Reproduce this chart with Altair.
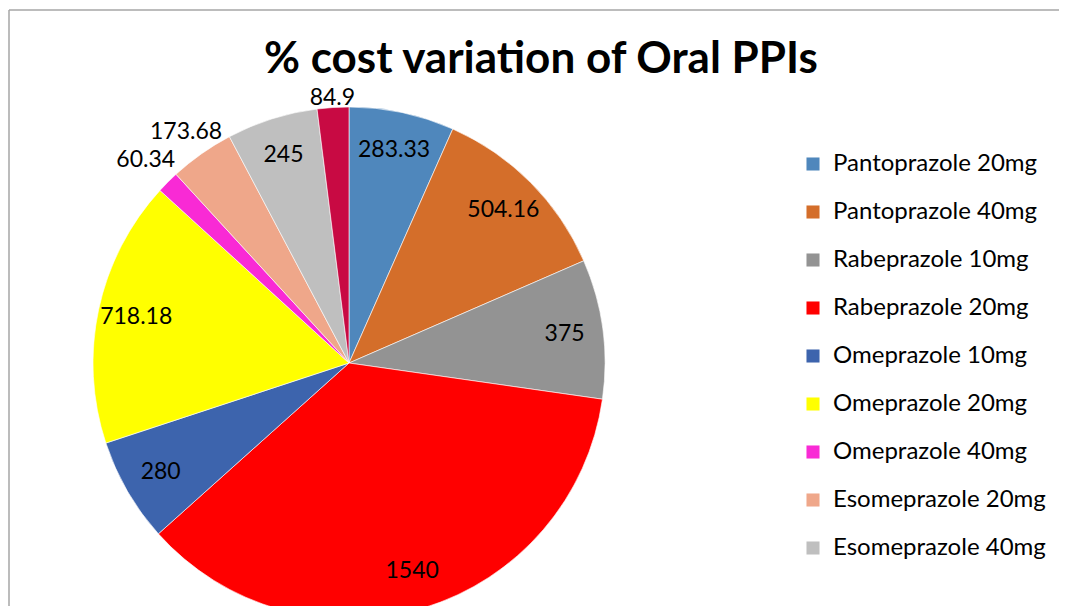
import altair as alt
import pandas as pd

drugs = ["Pantoprazole 20mg", "Pantoprazole 40mg", "Rabeprazole 10mg", "Rabeprazole 20mg",
         "Omeprazole 10mg", "Omeprazole 20mg", "Omeprazole 40mg", "Esomeprazole 20mg",
         "Esomeprazole 40mg", "Lansoprazole 30mg"]
values = [283.33, 504.16, 375, 1540, 280, 718.18, 60.34, 173.68, 245, 84.9]
labels = ["283.33", "504.16", "375", "1540", "280", "718.18", "60.34", "173.68", "245", "84.9"]
colors = ["#4F87BC", "#D46E2A", "#939393", "#FF0000", "#3D64AD", "#FFFF00", "#F92AD5",
          "#EFA78A", "#BFBFBF", "#C80A43"]
legend_items = drugs[:9]

FONT = "Lato"
CX, CY, R = 341, 355, 256

df = pd.DataFrame({"drug": drugs, "value": values, "label": labels, "order": list(range(len(drugs)))})

pie = alt.Chart(df).mark_arc(outerRadius=R, stroke="white", strokeWidth=0.6).encode(
    theta=alt.Theta("value:Q", stack=True),
    order=alt.Order("order:Q"),
    x=alt.value(CX), y=alt.value(CY),
    color=alt.Color("drug:N", sort=drugs,
                    scale=alt.Scale(domain=drugs, range=colors),
                    legend=alt.Legend(values=legend_items, title=None, orient="none",
                                      legendX=793, legendY=144,
                                      symbolType="square", symbolSize=170,
                                      symbolStrokeWidth=0, labelFont=FONT,
                                      labelFontSize=24, labelColor="#000000",
                                      labelOffset=8, rowPadding=24,
                                      labelLimit=400)),
)

text = alt.Chart(df).transform_joinaggregate(
    total="sum(value)"
).transform_window(
    cum="sum(value)", sort=[alt.SortField("order")], frame=[None, 0]
).transform_calculate(
    mid="2 * PI * (datum.cum - datum.value / 2) / datum.total",
    big="datum.value / datum.total >= 0.05",
).transform_calculate(
    lr=f"datum.big ? {R * 0.85} : {R} * (1.03 + 0.13 * abs(sin(datum.mid)))"
).mark_text(font=FONT, fontSize=23, color="#000000").encode(
    theta=alt.Theta("mid:Q", scale=None),
    radius=alt.Radius("lr:Q", scale=None),
    x=alt.value(CX), y=alt.value(CY),
    text=alt.Text("label:N"),
)

border = pd.DataFrame({"k": [0]})
top_line = alt.Chart(border).mark_rule(color="#A6A6A6", strokeWidth=1.5).encode(
    x=alt.value(1), x2=alt.value(1060), y=alt.value(2))
left_line = alt.Chart(border).mark_rule(color="#A6A6A6", strokeWidth=1.5).encode(
    x=alt.value(1), y=alt.value(2), y2=alt.value(610))

chart = alt.layer(top_line, left_line, pie, text).properties(
    width=1051, height=598,
    autosize=alt.AutoSizeParams(type="none"),
    padding=0,
    title=alt.TitleParams("% cost variation of Oral PPIs", font=FONT, fontSize=44,
                          fontWeight="bold", color="#000000", anchor="start",
                          dx=256, dy=6, offset=-68),
).configure_view(stroke=None)

chart.save("out.html", embed_options={"renderer": "svg", "actions": False})
